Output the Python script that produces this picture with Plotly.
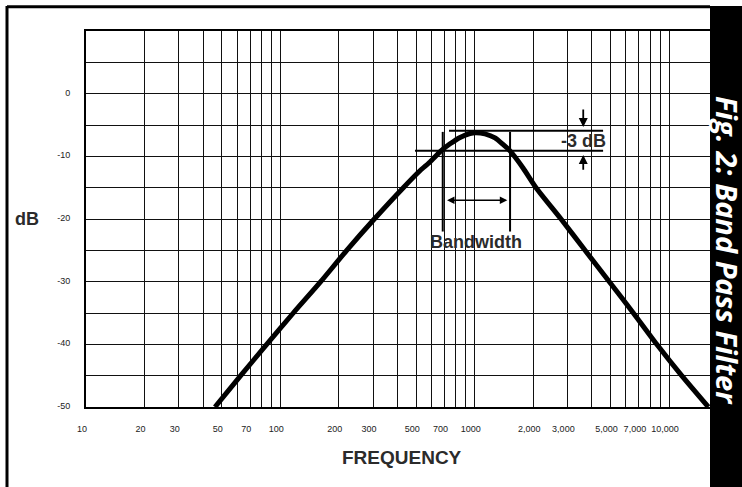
import numpy as np
import plotly.graph_objects as go

# ---- data ----
freq_hz = [46.1, 62.5, 85.1, 116.6, 161.4, 219.6, 304.5, 429.4, 523, 589, 671, 747, 841, 946,
           1016, 1130, 1273, 1399, 1520, 1774, 2069, 2782, 3697, 4931, 6553, 8648, 11625, 15937]
gain_db = [-50, -45, -40, -35, -30, -25, -20, -15, -12.3, -10.9, -9.13, -8.0, -6.98, -6.35,
           -6.23, -6.42, -7.06, -8.1, -9.13, -11.85, -15, -20, -25, -30, -35, -40, -45, -50]

x_grid_vals = [d * 10 ** e for e in (1, 2, 3) for d in range(1, 10)] + [10000]
x_label_vals = [10, 20, 30, 50, 70, 100, 200, 300, 500, 700, 1000, 2000, 3000, 5000, 7000, 10000]
x_label_text = ["10", "20", "30", "50", "70", "100", "200", "300", "500", "700", "1000",
                "2,000", "3,000", "5,000", "7,000", "10,000"]
y_grid_vals = list(range(-50, 10, 5))
y_label_vals = [0, -10, -20, -30, -40, -50]

peak_ref_db = -5.9
cut_ref_db = -9.1
bw_low_hz = 685
bw_high_hz = 1521
bw_line_bottom_db = -22.0
bw_line_top_db = -6.1
bw_arrow_db = -17.0
bw_arrow_hz = [708, 1472]
ref_line_right_hz = 4580
peak_line_left_hz = 738
cut_line_left_hz = 493
db3_arrow_hz = 3620
db3_arrow_top = [-2.3, -5.3]
db3_arrow_bottom = [-12.4, -9.8]
bandwidth_label = ("Bandwidth", 1016, -23.7)
db3_label = ("-3 dB", 3614, -7.5)

label_lookup = dict(zip(x_label_vals, x_label_text))
x_tick_text = [label_lookup.get(v, "") for v in x_grid_vals]
y_tick_text = [str(v) if v in y_label_vals else "" for v in y_grid_vals]

FONT = "Liberation Sans, Arial, Helvetica, sans-serif"
TXT = "#2b2b2b"

fig = go.Figure()
fig.add_trace(go.Scatter(x=freq_hz, y=gain_db, mode="lines",
                         line=dict(color="black", width=5, shape="spline", smoothing=0.6),
                         hoverinfo="skip", showlegend=False))

fig.update_layout(
    width=742, height=487, autosize=False,
    margin=dict(l=86, r=32, t=31, b=80, pad=0),
    paper_bgcolor="white", plot_bgcolor="white",
    showlegend=False,
    font=dict(family=FONT, color=TXT),
)
fig.update_xaxes(type="log", range=[1, 4.211],
                 tickvals=x_grid_vals, ticktext=x_tick_text,
                 tickfont=dict(size=9, family=FONT, color="#222"),
                 ticks="", showgrid=True, gridcolor="#111", gridwidth=1,
                 showline=True, linecolor="black", linewidth=2, mirror=True,
                 ticklabelshift=-4, ticklabelstandoff=12, zeroline=False)
fig.update_yaxes(range=[-50, 10],
                 tickvals=y_grid_vals, ticktext=y_tick_text,
                 tickfont=dict(size=9, family=FONT, color="#222"),
                 ticks="", showgrid=True, gridcolor="#111", gridwidth=1,
                 showline=True, linecolor="black", linewidth=2, mirror=True,
                 ticklabelstandoff=12, ticklabelshift=-1, zeroline=False)

shapes = []
# -3 dB reference lines
shapes.append(dict(type="line", xref="x", yref="y", x0=peak_line_left_hz, x1=ref_line_right_hz,
                   y0=peak_ref_db, y1=peak_ref_db, line=dict(color="black", width=2)))
shapes.append(dict(type="line", xref="x", yref="y", x0=cut_line_left_hz, x1=ref_line_right_hz,
                   y0=cut_ref_db, y1=cut_ref_db, line=dict(color="black", width=2)))
# bandwidth vertical lines
for f in (bw_low_hz, bw_high_hz):
    shapes.append(dict(type="line", xref="x", yref="y", x0=f, x1=f,
                       y0=bw_line_bottom_db, y1=bw_line_top_db, line=dict(color="black", width=2)))
# black side bar and outer frame
shapes.append(dict(type="rect", xref="paper", yref="paper", x0=1.0, x1=1.06,
                   y0=-0.3, y1=1.0665, fillcolor="black", line=dict(width=0), layer="above"))
shapes.append(dict(type="line", xref="paper", yref="paper", x0=-0.1266, x1=1.0,
                   y0=1.0646, y1=1.0646, line=dict(color="black", width=3)))
shapes.append(dict(type="line", xref="paper", yref="paper", x0=-0.1266, x1=-0.1266,
                   y0=-0.3, y1=1.0665, line=dict(color="black", width=3)))
fig.update_layout(shapes=shapes)

ann = []
lg = np.log10
# bandwidth double arrow
ann.append(dict(x=lg(bw_arrow_hz[1]), y=bw_arrow_db, ax=lg(bw_arrow_hz[0]), ay=bw_arrow_db,
                xref="x", yref="y", axref="x", ayref="y", text="", showarrow=True,
                arrowhead=2, startarrowhead=2, arrowside="end+start", arrowsize=1,
                startarrowsize=1, arrowwidth=1.5, arrowcolor="black", standoff=0, startstandoff=0))
# -3 dB arrows
ann.append(dict(x=lg(db3_arrow_hz), y=db3_arrow_top[1], ax=lg(db3_arrow_hz), ay=db3_arrow_top[0],
                xref="x", yref="y", axref="x", ayref="y", text="", showarrow=True,
                arrowhead=2, arrowsize=1, arrowwidth=1.8, arrowcolor="black", standoff=0))
ann.append(dict(x=lg(db3_arrow_hz), y=db3_arrow_bottom[1], ax=lg(db3_arrow_hz), ay=db3_arrow_bottom[0],
                xref="x", yref="y", axref="x", ayref="y", text="", showarrow=True,
                arrowhead=2, arrowsize=1, arrowwidth=1.8, arrowcolor="black", standoff=0))
# text labels
for txt, f, db in (bandwidth_label, db3_label):
    ann.append(dict(x=lg(f), y=db, xref="x", yref="y", text="<b>%s</b>" % txt, showarrow=False,
                    font=dict(size=18, family=FONT, color=TXT), xanchor="center", yanchor="middle"))
# axis titles
ann.append(dict(x=-0.0946, y=0.5, xref="paper", yref="paper", text="<b>dB</b>", showarrow=False,
                font=dict(size=18, family=FONT, color=TXT), xanchor="center", yanchor="middle"))
ann.append(dict(x=0.507, y=-0.135, xref="paper", yref="paper", text="<b>FREQUENCY</b>", showarrow=False,
                font=dict(size=19, family=FONT, color=TXT), xanchor="center", yanchor="middle"))
# side title
ann.append(dict(x=1.0274, y=0.4176, xref="paper", yref="paper", text="<b><i>Fig. 2: Band Pass Filter</i></b>",
                showarrow=False, textangle=90, font=dict(size=29, family="Open Sans", color="white"),
                xanchor="center", yanchor="middle"))
fig.update_layout(annotations=ann)

fig.write_html("out.html", config={"displayModeBar": False},
               post_script="document.body.style.margin='0px';document.body.style.overflow='hidden';")
